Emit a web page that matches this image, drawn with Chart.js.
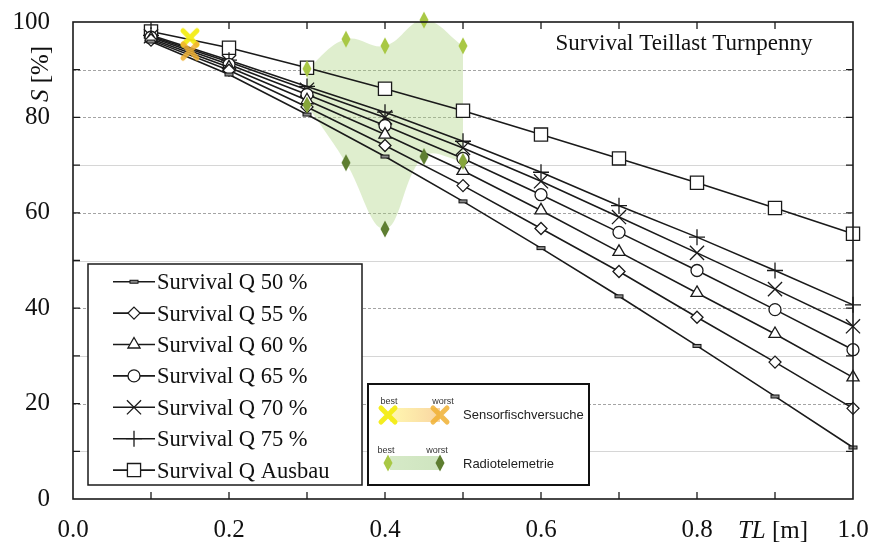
<!DOCTYPE html>
<html>
<head>
<meta charset="utf-8">
<script src="https://cdn.jsdelivr.net/npm/chart.js@4.4.0/dist/chart.umd.min.js"></script>
<style>
  html, body { margin: 0; padding: 0; background: #fff; }
  #wrap { width: 872px; height: 546px; position: relative; }
</style>
</head>
<body>
<div id="wrap"><canvas id="c" width="872" height="546"></canvas></div>
<script>
// Turbine length TL [m] and computed survival S [%] per discharge
const tlValues     = [0.1, 0.2, 0.3, 0.4, 0.5, 0.6, 0.7, 0.8, 0.9, 1.0];
const survivalQ50  = [95.9, 89.0, 80.6, 71.8, 62.4, 52.6, 42.5, 32.1, 21.5, 10.8];
const survivalQ55  = [96.2, 89.9, 82.2, 74.1, 65.7, 56.7, 47.7, 38.1, 28.7, 19.0];
const survivalQ60  = [96.5, 90.5, 83.6, 76.4, 68.8, 60.5, 51.8, 43.2, 34.6, 25.5];
const survivalQ65  = [96.8, 91.1, 84.8, 78.3, 71.4, 63.8, 55.9, 47.9, 39.7, 31.3];
const survivalQ70  = [97.0, 91.6, 85.8, 80.0, 73.6, 66.6, 59.1, 51.6, 44.0, 36.2];
const survivalQ75  = [97.2, 92.0, 86.5, 81.1, 75.0, 68.5, 61.5, 54.9, 47.9, 40.7];
const survivalQAus = [98.0, 94.6, 90.4, 86.0, 81.4, 76.4, 71.4, 66.3, 61.0, 55.6];
const seriesNames  = ['Survival Q 50 %', 'Survival Q 55 %', 'Survival Q 60 %', 'Survival Q 65 %',
                      'Survival Q 70 %', 'Survival Q 75 %', 'Survival Q Ausbau'];

// Sensor fish tests (best / worst)
const sensorTL    = [0.15];
const sensorBest  = [96.7];
const sensorWorst = [93.9];

// Radio telemetry (best / worst)
const radioTL    = [0.30, 0.35, 0.40, 0.45, 0.50];
const radioBest  = [90.2, 96.4, 95.0, 100.4, 95.0];
const radioWorst = [82.6, 70.5, 56.6, 71.8, 70.8];

// Axis tick labels
const xTickLabels = ['0.0', '0.2', '0.4', '0.6', '0.8', '1.0'];
const yTickLabels = ['0', '20', '40', '60', '80', '100'];

const SERIF = "'Liberation Serif', 'Times New Roman', serif";
const SANS = "'Liberation Sans', Arial, sans-serif";
const INK = '#1a1a1a';

function makeImg(w, h, draw) {
  const c = document.createElement('canvas');
  c.width = w; c.height = h;
  draw(c.getContext('2d'));
  return c;
}
const dashImg = makeImg(11, 6, g => {
  g.fillStyle = '#8a8a8a'; g.fillRect(1, 1, 9, 4);
  g.strokeStyle = '#111'; g.lineWidth = 1; g.strokeRect(1.5, 1.5, 8, 3);
});
function crossImg(color) {
  return makeImg(22, 22, g => {
    g.strokeStyle = color; g.lineWidth = 5; g.lineCap = 'round';
    g.beginPath();
    g.moveTo(4, 4); g.lineTo(18, 18);
    g.moveTo(18, 4); g.lineTo(4, 18);
    g.stroke();
  });
}
function diamondImg(color) {
  return makeImg(10, 18, g => {
    g.fillStyle = color;
    g.beginPath();
    g.moveTo(5, 0.5); g.lineTo(9.5, 9); g.lineTo(5, 17.5); g.lineTo(0.5, 9);
    g.closePath(); g.fill();
  });
}
const xYellow = crossImg('rgba(243,236,20,0.95)');
const xOrange = crossImg('rgba(240,176,50,0.85)');
const dLight = diamondImg('#a9c845');
const dMid = diamondImg('#86a53b');
const dDark = diamondImg('#5e7e31');

const pts = (xs, ys) => xs.map((x, i) => ({ x: x, y: ys[i] }));

const seriesStyle = [
  { values: survivalQ50,  pointStyle: dashImg,    radius: 5 },
  { values: survivalQ55,  pointStyle: 'rectRot',  radius: 6 },
  { values: survivalQ60,  pointStyle: 'triangle', radius: 7 },
  { values: survivalQ65,  pointStyle: 'circle',   radius: 6 },
  { values: survivalQ70,  pointStyle: 'crossRot', radius: 10 },
  { values: survivalQ75,  pointStyle: 'cross',    radius: 8 },
  { values: survivalQAus, pointStyle: 'rect',     radius: 9.3 }
];

const datasets = [
  { label: 'radio-best', data: pts(radioTL, radioBest), borderWidth: 0, pointRadius: 0,
    tension: 0.4, fill: false, order: 20 },
  { label: 'radio-worst', data: pts(radioTL, radioWorst), borderWidth: 0, pointRadius: 0,
    tension: 0.4, fill: '-1', backgroundColor: 'rgba(165,208,120,0.36)', order: 20 }
];
seriesStyle.forEach((s, i) => {
  datasets.push({
    label: seriesNames[i],
    data: pts(tlValues, s.values),
    borderColor: INK, borderWidth: 1.6, tension: 0, fill: false,
    pointStyle: s.pointStyle, pointRadius: s.radius,
    pointBackgroundColor: '#fff', pointBorderColor: INK, pointBorderWidth: 1.3,
    clip: false, order: 10
  });
});
datasets.push(
  { label: 'sensor-best', data: pts(sensorTL, sensorBest), showLine: false,
    pointStyle: xYellow, pointRadius: 9, clip: false, order: 2 },
  { label: 'sensor-worst', data: pts(sensorTL, sensorWorst), showLine: false,
    pointStyle: xOrange, pointRadius: 9, clip: false, order: 1 },
  { label: 'radio-best-pts', data: pts(radioTL, radioBest), showLine: false,
    pointStyle: dLight, pointRadius: 8, clip: false, order: 1 },
  { label: 'radio-worst-pts', data: pts(radioTL, radioWorst), showLine: false,
    pointStyle: [dMid, dDark, dDark, dDark, dMid], pointRadius: 8, clip: false, order: 1 }
);

// simple marker painter for the legend (same geometry as Chart.js point styles)
function drawMarker(ctx, style, r, x, y) {
  if (typeof style === 'object') {
    ctx.drawImage(style, x - style.width / 2, y - style.height / 2);
    return;
  }
  ctx.save();
  ctx.fillStyle = '#fff'; ctx.strokeStyle = INK; ctx.lineWidth = 1.3;
  ctx.beginPath();
  const c45 = Math.SQRT1_2;
  switch (style) {
    case 'circle': ctx.arc(x, y, r, 0, Math.PI * 2); ctx.fill(); ctx.stroke(); break;
    case 'rect': { const s = r * c45; ctx.rect(x - s, y - s, 2 * s, 2 * s); ctx.fill(); ctx.stroke(); break; }
    case 'rectRot':
      ctx.moveTo(x, y - r); ctx.lineTo(x + r, y); ctx.lineTo(x, y + r); ctx.lineTo(x - r, y);
      ctx.closePath(); ctx.fill(); ctx.stroke(); break;
    case 'triangle': {
      let a = 0;
      ctx.moveTo(x + Math.sin(a) * r, y - Math.cos(a) * r);
      a += 2 * Math.PI / 3; ctx.lineTo(x + Math.sin(a) * r, y - Math.cos(a) * r);
      a += 2 * Math.PI / 3; ctx.lineTo(x + Math.sin(a) * r, y - Math.cos(a) * r);
      ctx.closePath(); ctx.fill(); ctx.stroke(); break;
    }
    case 'cross':
      ctx.moveTo(x, y - r); ctx.lineTo(x, y + r); ctx.moveTo(x - r, y); ctx.lineTo(x + r, y);
      ctx.stroke(); break;
    case 'crossRot': {
      const d = r * c45;
      ctx.moveTo(x - d, y - d); ctx.lineTo(x + d, y + d); ctx.moveTo(x + d, y - d); ctx.lineTo(x - d, y + d);
      ctx.stroke(); break;
    }
  }
  ctx.restore();
}

const decorations = {
  id: 'decorations',
  beforeDatasetsDraw(chart) {
    const { ctx, chartArea: a, scales: { y } } = chart;
    ctx.save();
    for (let v = 10; v < 100; v += 10) {
      const py = Math.round(y.getPixelForValue(v)) + 0.5;
      const dashed = (v % 20 === 0) || v === 90;
      ctx.beginPath();
      ctx.setLineDash(dashed ? [3, 2] : []);
      ctx.strokeStyle = dashed ? '#a4a4a4' : '#d6d6d6';
      ctx.lineWidth = 1;
      ctx.moveTo(a.left, py); ctx.lineTo(a.right, py);
      ctx.stroke();
    }
    ctx.restore();
  },
  afterDatasetsDraw(chart) {
    const { ctx, chartArea: a, scales: { x, y } } = chart;
    ctx.save();
    ctx.strokeStyle = INK; ctx.lineWidth = 1.6;
    ctx.strokeRect(a.left, a.top, a.right - a.left, a.bottom - a.top);
    ctx.lineWidth = 1.3;
    ctx.beginPath();
    const tick = 7;
    for (let i = 1; i < 10; i++) {
      const px = x.getPixelForValue(i / 10);
      ctx.moveTo(px, a.bottom); ctx.lineTo(px, a.bottom - tick);
      ctx.moveTo(px, a.top); ctx.lineTo(px, a.top + tick);
    }
    for (let v = 10; v < 100; v += 10) {
      const py = y.getPixelForValue(v);
      ctx.moveTo(a.left, py); ctx.lineTo(a.left + tick, py);
      ctx.moveTo(a.right, py); ctx.lineTo(a.right - tick, py);
    }
    ctx.stroke();
    ctx.restore();
  },
  afterDraw(chart) {
    const ctx = chart.ctx;
    ctx.save();
    ctx.fillStyle = '#111';
    ctx.textBaseline = 'alphabetic';

    // chart caption
    ctx.font = '23px ' + SERIF;
    ctx.textAlign = 'center';
    ctx.fillText('Survival Teillast Turnpenny', 684, 50);

    // x axis title: TL [m]
    ctx.textAlign = 'left';
    ctx.font = 'italic 25px ' + SERIF;
    let w1 = ctx.measureText('TL').width;
    ctx.font = '25px ' + SERIF;
    let w2 = ctx.measureText(' [m]').width;
    let sx = 773 - (w1 + w2) / 2;
    ctx.font = 'italic 25px ' + SERIF; ctx.fillText('TL', sx, 538);
    ctx.font = '25px ' + SERIF; ctx.fillText(' [m]', sx + w1, 538);

    // y axis title: S [%]
    ctx.save();
    ctx.translate(48, 74);
    ctx.rotate(-Math.PI / 2);
    ctx.font = 'italic 25px ' + SERIF;
    w1 = ctx.measureText('S').width;
    ctx.font = '25px ' + SERIF;
    w2 = ctx.measureText(' [%]').width;
    sx = -(w1 + w2) / 2;
    ctx.font = 'italic 25px ' + SERIF; ctx.fillText('S', sx, 0);
    ctx.font = '25px ' + SERIF; ctx.fillText(' [%]', sx + w1, 0);
    ctx.restore();

    // series legend
    ctx.fillStyle = '#fff';
    ctx.fillRect(88, 264, 274, 221);
    ctx.strokeStyle = INK; ctx.lineWidth = 1.5;
    ctx.strokeRect(88, 264, 274, 221);
    ctx.font = '22.5px ' + SERIF;
    seriesStyle.forEach((s, i) => {
      const cy = 281.7 + i * 31.4;
      ctx.strokeStyle = INK; ctx.lineWidth = 1.6;
      ctx.beginPath(); ctx.moveTo(113, cy); ctx.lineTo(155, cy); ctx.stroke();
      drawMarker(ctx, s.pointStyle, s.radius, 134, cy);
      ctx.fillStyle = '#111';
      ctx.fillText(seriesNames[i], 157, cy + 7.5);
    });

    // measurement legend
    ctx.fillStyle = '#fff';
    ctx.fillRect(368, 384, 221, 101);
    ctx.strokeStyle = '#111'; ctx.lineWidth = 2;
    ctx.strokeRect(368, 384, 221, 101);

    let g = ctx.createLinearGradient(390, 0, 440, 0);
    g.addColorStop(0, 'rgba(255,240,110,0.55)');
    g.addColorStop(1, 'rgba(245,185,100,0.6)');
    ctx.fillStyle = g; ctx.fillRect(390, 408, 50, 14);
    ctx.drawImage(xYellow, 388 - 11, 415 - 11);
    ctx.drawImage(xOrange, 440 - 11, 415 - 11);

    g = ctx.createLinearGradient(390, 0, 440, 0);
    g.addColorStop(0, 'rgba(200,226,180,0.75)');
    g.addColorStop(1, 'rgba(190,220,170,0.75)');
    ctx.fillStyle = g; ctx.fillRect(390, 456, 50, 14);
    ctx.drawImage(dLight, 388 - 5, 463 - 9);
    ctx.drawImage(dDark, 440 - 5, 463 - 9);

    ctx.fillStyle = '#333';
    ctx.font = '9px ' + SANS;
    ctx.textAlign = 'center';
    ctx.fillText('best', 389, 404);
    ctx.fillText('worst', 443, 404);
    ctx.fillText('best', 386, 453);
    ctx.fillText('worst', 437, 453);

    ctx.fillStyle = '#222';
    ctx.font = '13px ' + SANS;
    ctx.textAlign = 'left';
    ctx.fillText('Sensorfischversuche', 463, 419);
    ctx.fillText('Radiotelemetrie', 463, 468);
    ctx.restore();
  }
};

new Chart(document.getElementById('c'), {
  type: 'line',
  data: { datasets: datasets },
  options: {
    responsive: false,
    devicePixelRatio: 1,
    animation: false,
    events: [],
    layout: { padding: { left: 0, right: 19, top: 22, bottom: 0 } },
    plugins: { legend: { display: false }, tooltip: { enabled: false } },
    scales: {
      x: {
        type: 'linear', min: 0, max: 1,
        grid: { display: false, drawTicks: false },
        border: { display: false },
        ticks: {
          stepSize: 0.1, autoSkip: false, maxRotation: 0, padding: 16,
          color: '#111', font: { family: SERIF, size: 25 },
          callback: v => { const t = Number(v).toFixed(1); return xTickLabels.includes(t) ? t : ''; }
        },
        afterFit: s => { s.height = 47; s.paddingLeft = 0; s.paddingRight = 0; }
      },
      y: {
        type: 'linear', min: 0, max: 100,
        grid: { display: false, drawTicks: false },
        border: { display: false },
        ticks: {
          stepSize: 10, autoSkip: false, padding: 23,
          color: '#111', font: { family: SERIF, size: 25 },
          callback: v => { const t = String(Math.round(v)); return yTickLabels.includes(t) ? t : ''; }
        },
        afterFit: s => { s.width = 73; s.paddingTop = 0; s.paddingBottom = 0; }
      }
    }
  },
  plugins: [decorations]
});
</script>
</body>
</html>
